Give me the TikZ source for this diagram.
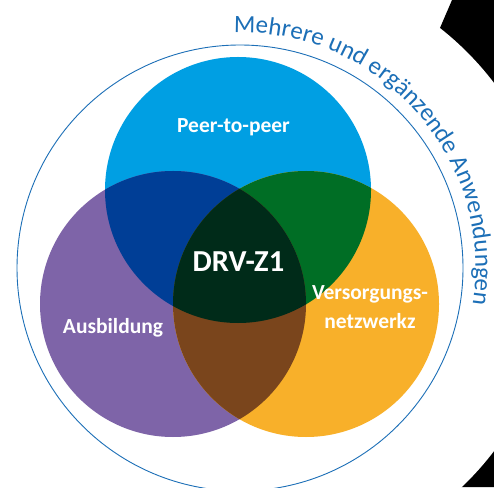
\documentclass[tikz,border=0pt]{standalone}
\usepackage{fontspec}
\setmainfont{Carlito}
\usetikzlibrary{decorations.text}
\definecolor{blueC}{RGB}{0,159,227}
\definecolor{purpleC}{RGB}{126,100,168}
\definecolor{orangeC}{RGB}{248,176,42}
\definecolor{bpC}{RGB}{0,62,150}
\definecolor{boC}{RGB}{0,110,37}
\definecolor{poC}{RGB}{122,69,28}
\definecolor{allC}{RGB}{0,43,25}
\definecolor{ringblue}{RGB}{28,111,183}
\tikzset{
  lbl/.style={text=white, inner sep=0pt, align=center, font=\bfseries\fontsize{21.5}{28.4}\selectfont},
  ringline/.style={draw=ringblue, line width=0.9pt},
}
\begin{document}
\begin{tikzpicture}[x=1pt,y=1pt]
\useasboundingbox (0,0) rectangle (494,487);
\clip (0,0) rectangle (494,487);
\fill[white] (0,0) rectangle (494,487);
\fill[black] (452,487) -- (494,487) -- (494,0) -- (243,0) -- cycle;
\coordinate (wc) at (252,220);
\fill[white] (wc) circle[radius=304];
\coordinate (c) at (240,219);
\draw[ringline] (c) circle[radius=223];
\path[decorate, decoration={text along path, text align=left,
  text={|\fontsize{25}{25}\selectfont\color{ringblue}|Mehrere und ergänzende Anwendungen}}]
  ([shift={(c)}]91.5:235.5) arc[start angle=91.5, end angle=-40, radius=235.5];
\coordinate (bc) at (238,297);
\coordinate (pc) at (173,183);
\coordinate (oc) at (306,183);
\fill[blueC] (bc) circle[radius=133];
\fill[purpleC] (pc) circle[radius=133];
\fill[orangeC] (oc) circle[radius=133];
\begin{scope}
  \clip (bc) circle[radius=133];
  \fill[bpC] (pc) circle[radius=133];
  \fill[boC] (oc) circle[radius=133];
\end{scope}
\begin{scope}
  \clip (pc) circle[radius=133];
  \fill[poC] (oc) circle[radius=133];
\end{scope}
\begin{scope}
  \clip (bc) circle[radius=133];
  \clip (pc) circle[radius=133];
  \fill[allC] (oc) circle[radius=133];
\end{scope}
\node[lbl, anchor=base] (p2p) at (233.5,354.3) {Peer-to-peer};
\node[lbl, anchor=base, font=\bfseries\fontsize{30.5}{30.5}\selectfont] (drv) at (238.5,215.3) {DRV-Z1};
\node[lbl, anchor=base] (aus) at (113,153.7) {Ausbildung};
\node[lbl, anchor=base] (vers) at (370,158.7) {Versorgungs-\\netzwerkz};
\end{tikzpicture}
\end{document}
